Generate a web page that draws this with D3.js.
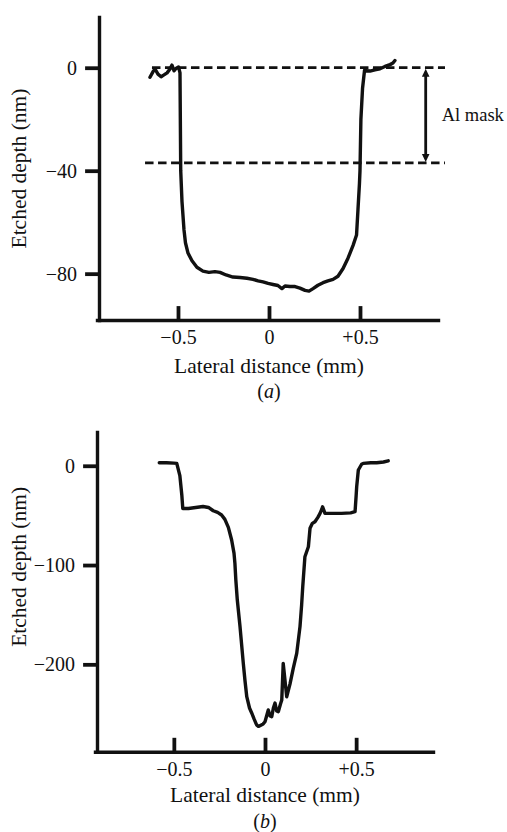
<!DOCTYPE html>
<html>
<head>
<meta charset="utf-8">
<script src="https://cdn.jsdelivr.net/npm/d3@7/dist/d3.min.js"></script>
<style>
  html, body { margin: 0; padding: 0; background: #fff; }
  svg { display: block; }
  text { font-family: "Liberation Serif", "Times New Roman", serif; fill: #111; }
</style>
</head>
<body>
<svg id="chart" width="507" height="832"></svg>
<script>
// ---- Profile (a): etch through Al mask, lateral distance (mm) vs depth (nm)
const profileA_x = [-0.654, -0.637, -0.626, -0.610, -0.593, -0.577, -0.560, -0.544, -0.533, -0.522, -0.511, -0.497, -0.489,
  -0.485, -0.478, -0.467, -0.459, -0.445, -0.423, -0.396, -0.363, -0.330, -0.297, -0.269, -0.236, -0.198, -0.159, -0.121,
  -0.088, -0.060, -0.033, -0.005, 0.022, 0.049, 0.071, 0.088, 0.115, 0.143, 0.170, 0.198, 0.220, 0.242, 0.269, 0.297,
  0.324, 0.352, 0.379, 0.407, 0.434, 0.462, 0.481, 0.489, 0.497, 0.500, 0.505, 0.514, 0.525, 0.533, 0.555, 0.582,
  0.610, 0.637, 0.665, 0.681, 0.692];
const profileA_y = [-3.7, -1.5, -0.5, -2.5, -3.5, -2.8, -2.0, -0.5, 1.0, -1.2, -0.3, 0.3, -2,
  -40, -52, -63, -68, -72, -75, -77.5, -79, -79.5, -79.2, -79.5, -80.5, -81.3, -81.5, -81.8,
  -82.2, -82.8, -83.2, -83.8, -84.2, -84.6, -85.8, -84.8, -85.0, -85.0, -85.6, -86.5, -86.8, -85.8, -84.5, -83.5,
  -82.8, -82.2, -81, -78, -74, -69, -65, -55, -45, -40, -20, -8, -1, -1.2, -1.3, -0.8,
  -0.4, 0.5, 1.2, 1.8, 2.8];

// Al mask surface levels (nm) and the span of the dashed guide lines (mm)
const maskLevels = [0, -37];
const maskLineStart = [-0.643, -0.681];
const maskLineEnd = 0.967;
const maskArrowX = 0.861;

// ---- Profile (b): two-step etch
const profileB_x = [-0.580, -0.540, -0.500, -0.484, -0.467, -0.456, -0.451, -0.420, -0.380, -0.340, -0.310, -0.284,
  -0.260, -0.238, -0.220, -0.201, -0.183, -0.170, -0.165, -0.160, -0.152, -0.137, -0.119, -0.110, -0.100, -0.085,
  -0.073, -0.060, -0.046, -0.036, -0.010, 0.000, 0.018, 0.028, 0.037, 0.046, 0.055, 0.064, 0.073, 0.085, 0.092,
  0.100, 0.119, 0.137, 0.155, 0.174, 0.192, 0.201, 0.207, 0.219, 0.238, 0.247, 0.260, 0.274, 0.290, 0.302, 0.311,
  0.316, 0.329, 0.375, 0.420, 0.470, 0.494, 0.500, 0.503, 0.512, 0.530, 0.539, 0.580, 0.613, 0.650, 0.676];
const profileB_y = [3.0, 3.0, 2.6, 2.4, -10, -30, -43, -43, -42, -41, -42, -45.3,
  -47, -49.6, -54, -62, -74.8, -88, -98.3, -115, -135, -162, -199, -216, -232.6, -244,
  -249, -255, -261, -262.5, -260, -257.8, -246, -252, -252.7, -244, -239, -247, -247.7, -240, -236,
  -199, -232.6, -220, -204, -189, -162, -140, -122, -91.6, -81.6, -63, -58, -56.4, -52, -48, -44,
  -41.3, -48, -48, -48, -47.5, -46.3, -30, -21, -4.3, 1.5, 2.4, 3.0, 3.0, 3.8, 5.0];

// Axis ticks and labels
const xTickValues = [-0.5, 0, 0.5];
const xTickLabels = ["\u22120.5", "0", "+0.5"];
const yTickValuesA = [0, -40, -80];
const yTickLabelsA = ["0", "\u221240", "\u221280"];
const yTickValuesB = [0, -100, -200];
const yTickLabelsB = ["0", "\u2212100", "\u2212200"];
const xTitle = "Lateral distance (mm)";
const yTitle = "Etched depth (nm)";

const svg = d3.select("#chart");

function drawPanel(cfg) {
  const x = d3.scaleLinear().domain(cfg.xDomain).range(cfg.xRange);
  const y = d3.scaleLinear().domain(cfg.yDomain).range(cfg.yRange);
  const g = svg.append("g");

  // y axis: outward ticks
  const yAxis = d3.axisLeft(y)
    .tickValues(cfg.yTicks)
    .tickFormat((d, i) => cfg.yLabels[i])
    .tickSize(12).tickSizeOuter(0).tickPadding(10);
  const ya = g.append("g").attr("transform", `translate(${cfg.xRange[0] + 2},0)`).call(yAxis);
  ya.select(".domain").attr("stroke", "#111").attr("stroke-width", 3.4);
  ya.selectAll(".tick line").attr("stroke", "#111").attr("stroke-width", 3.8);
  ya.selectAll(".tick text").style("font-size", "20px").attr("fill", "#111");

  // x axis: ticks point into the plot
  const xAxis = d3.axisBottom(x)
    .tickValues(xTickValues)
    .tickFormat((d, i) => xTickLabels[i])
    .tickSize(-12).tickSizeOuter(0).tickPadding(10);
  const xa = g.append("g").attr("transform", `translate(0,${cfg.yRange[0]})`).call(xAxis);
  xa.select(".domain").attr("stroke", "#111").attr("stroke-width", 3.4);
  xa.selectAll(".tick line").attr("stroke", "#111").attr("stroke-width", 3.8);
  xa.selectAll(".tick text").style("font-size", "20px").attr("fill", "#111");
  g.selectAll(".domain, .tick line").attr("stroke-linecap", "square");

  // profile trace
  const line = d3.line().x(d => x(d[0])).y(d => y(d[1])).curve(d3.curveLinear);
  g.append("path")
    .datum(d3.zip(cfg.px, cfg.py))
    .attr("d", line)
    .attr("fill", "none")
    .attr("stroke", "#111")
    .attr("stroke-width", 3.4)
    .attr("stroke-linejoin", "round")
    .attr("stroke-linecap", "round");

  // titles
  const xMid = x(0);
  g.append("text").attr("x", xMid).attr("y", cfg.titleY)
    .attr("text-anchor", "middle").style("font-size", "21.5px").text(xTitle);
  g.append("text").attr("x", xMid).attr("y", cfg.panelY)
    .attr("text-anchor", "middle").style("font-size", "20px")
    .html(`(<tspan font-style="italic">${cfg.panel}</tspan>)`);
  const yMid = (cfg.yRange[0] + cfg.yRange[1]) / 2 + cfg.yTitleShift;
  g.append("text")
    .attr("transform", `translate(26,${yMid}) rotate(-90)`)
    .attr("text-anchor", "middle").style("font-size", "21.5px").text(yTitle);

  return { g, x, y };
}

// Panel (a)
const pa = drawPanel({
  xDomain: [-0.945, 0.9286], xRange: [97, 438],
  yDomain: [-98, 19.7], yRange: [320, 17],
  yTicks: yTickValuesA, yLabels: yTickLabelsA,
  px: profileA_x, py: profileA_y,
  titleY: 373, panelY: 398, panel: "a", yTitleShift: 0
});

// Dashed guides for the Al mask top and bottom
maskLevels.forEach((lvl, i) => {
  pa.g.append("line")
    .attr("x1", pa.x(maskLineStart[i])).attr("x2", pa.x(maskLineEnd))
    .attr("y1", pa.y(lvl)).attr("y2", pa.y(lvl))
    .attr("stroke", "#111").attr("stroke-width", 2.8)
    .attr("stroke-dasharray", "8.5,4.5");
});

// Double-headed arrow showing mask thickness
const ax = pa.x(maskArrowX);
const yTop = pa.y(maskLevels[0]);
const yBot = pa.y(maskLevels[1]);
pa.g.append("line")
  .attr("x1", ax).attr("x2", ax).attr("y1", yTop + 6).attr("y2", yBot - 6)
  .attr("stroke", "#111").attr("stroke-width", 2.8);
pa.g.append("path")
  .attr("d", `M${ax},${yTop + 1}L${ax - 3.8},${yTop + 9}L${ax + 3.8},${yTop + 9}Z`)
  .attr("fill", "#111");
pa.g.append("path")
  .attr("d", `M${ax},${yBot - 1}L${ax - 3.8},${yBot - 9}L${ax + 3.8},${yBot - 9}Z`)
  .attr("fill", "#111");
pa.g.append("text").attr("x", ax + 16).attr("y", (yTop + yBot) / 2 + 6)
  .style("font-size", "18.5px").text("Al mask");

// Panel (b)
drawPanel({
  xDomain: [-0.9325, 0.9216], xRange: [95, 433],
  yDomain: [-288, 34], yRange: [751.7, 432],
  yTicks: yTickValuesB, yLabels: yTickLabelsB,
  px: profileB_x, py: profileB_y,
  titleY: 802, panelY: 828, panel: "b", yTitleShift: -25
});
</script>
</body>
</html>
